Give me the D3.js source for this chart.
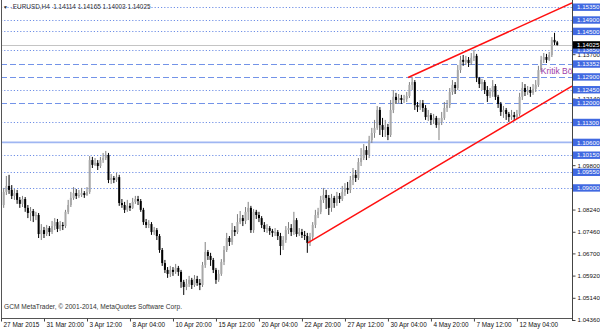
<!DOCTYPE html>
<html><head><meta charset="utf-8">
<script src="https://cdn.jsdelivr.net/npm/d3@7"></script>
<style>body{margin:0;background:#fff}svg{display:block;font-family:"Liberation Sans",Arial,sans-serif}</style>
</head><body><svg id="c" width="600" height="333"></svg>
<script>
const opens=[1.0865,1.0840,1.0886,1.0907,1.0893,1.0872,1.0882,1.0858,1.0844,1.0861,
1.0830,1.0812,1.0819,1.0801,1.0805,1.0738,1.0752,1.0738,1.0759,1.0745,
1.0766,1.0780,1.0756,1.0770,1.0766,1.0816,1.0840,1.0865,1.0882,1.0872,
1.0875,1.0882,1.0875,1.0886,1.0998,1.0981,1.0988,1.0977,1.0998,1.1005,
1.1016,1.0928,1.0935,1.0928,1.0938,1.0847,1.0840,1.0823,1.0837,1.0830,
1.0851,1.0861,1.0854,1.0823,1.0780,1.0770,1.0773,1.0745,1.0752,1.0731,
1.0682,1.0636,1.0612,1.0598,1.0612,1.0605,1.0619,1.0605,1.0570,1.0552,
1.0563,1.0577,1.0559,1.0580,1.0566,1.0559,1.0629,1.0675,1.0661,1.0647,
1.0612,1.0577,1.0598,1.0640,1.0682,1.0724,1.0710,1.0752,1.0745,1.0780,
1.0794,1.0784,1.0816,1.0830,1.0752,1.0816,1.0805,1.0794,1.0770,1.0756,
1.0759,1.0749,1.0742,1.0745,1.0731,1.0696,1.0717,1.0752,1.0759,1.0745,
1.0787,1.0738,1.0745,1.0735,1.0731,1.0707,1.0728,1.0770,1.0805,1.0816,
1.0858,1.0875,1.0865,1.0830,1.0865,1.0847,1.0872,1.0861,1.0886,1.0900,
1.0893,1.0928,1.0946,1.0935,1.0991,1.1005,1.1033,1.1016,1.1068,1.1093,
1.1111,1.1174,1.1121,1.1104,1.1114,1.1086,1.1174,1.1220,1.1209,1.1216,
1.1209,1.1212,1.1223,1.1262,1.1272,1.1191,1.1184,1.1198,1.1181,1.1149,
1.1156,1.1139,1.1146,1.1121,1.1132,1.1146,1.1181,1.1191,1.1237,1.1262,
1.1251,1.1314,1.1350,1.1343,1.1350,1.1339,1.1357,1.1364,1.1286,1.1265,
1.1272,1.1244,1.1223,1.1237,1.1258,1.1220,1.1195,1.1167,1.1174,1.1160,
1.1149,1.1156,1.1149,1.1160,1.1220,1.1251,1.1237,1.1244,1.1234,1.1248,
1.1262,1.1314,1.1350,1.1360,1.1350,1.1367,1.1420,1.14114];
const highs=[1.0882,1.0900,1.0942,1.0946,1.0910,1.0896,1.0893,1.0868,1.0872,1.0868,
1.0840,1.0833,1.0826,1.0816,1.0812,1.0773,1.0763,1.0770,1.0766,1.0784,
1.0794,1.0791,1.0784,1.0780,1.0823,1.0858,1.0886,1.0903,1.0896,1.0893,
1.0900,1.0889,1.0903,1.1012,1.1009,1.1005,1.0998,1.1009,1.1023,1.1030,
1.1023,1.0949,1.0942,1.0953,1.0946,1.0861,1.0851,1.0858,1.0847,1.0865,
1.0872,1.0872,1.0861,1.0830,1.0791,1.0787,1.0780,1.0763,1.0759,1.0738,
1.0689,1.0647,1.0622,1.0626,1.0622,1.0633,1.0626,1.0612,1.0577,1.0580,
1.0591,1.0584,1.0594,1.0591,1.0580,1.0640,1.0710,1.0682,1.0672,1.0654,
1.0619,1.0612,1.0650,1.0696,1.0742,1.0731,1.0777,1.0766,1.0808,1.0819,
1.0805,1.0833,1.0851,1.0837,1.0826,1.0823,1.0816,1.0801,1.0780,1.0773,
1.0766,1.0756,1.0759,1.0752,1.0742,1.0731,1.0766,1.0780,1.0773,1.0816,
1.0794,1.0759,1.0756,1.0749,1.0742,1.0742,1.0780,1.0823,1.0830,1.0872,
1.0900,1.0893,1.0875,1.0879,1.0872,1.0886,1.0882,1.0907,1.0917,1.0921,
1.0942,1.0970,1.0963,1.1005,1.1040,1.1054,1.1047,1.1083,1.1111,1.1139,
1.1188,1.1184,1.1146,1.1139,1.1125,1.1209,1.1244,1.1234,1.1230,1.1227,
1.1227,1.1237,1.1272,1.1290,1.1279,1.1202,1.1209,1.1209,1.1191,1.1174,
1.1163,1.1160,1.1153,1.1146,1.1167,1.1202,1.1209,1.1251,1.1279,1.1272,
1.1332,1.1364,1.1367,1.1364,1.1360,1.1374,1.1385,1.1371,1.1290,1.1283,
1.1279,1.1258,1.1251,1.1279,1.1265,1.1227,1.1202,1.1188,1.1181,1.1167,
1.1174,1.1167,1.1174,1.1234,1.1272,1.1265,1.1258,1.1255,1.1265,1.1279,
1.1329,1.1364,1.1374,1.1371,1.1378,1.1430,1.1445,1.14165];
const lows=[1.0823,1.0830,1.0875,1.0879,1.0861,1.0858,1.0844,1.0830,1.0833,1.0816,
1.0794,1.0784,1.0780,1.0787,1.0724,1.0717,1.0724,1.0731,1.0731,1.0738,
1.0752,1.0745,1.0749,1.0752,1.0759,1.0808,1.0833,1.0858,1.0861,1.0865,
1.0868,1.0865,1.0872,1.0879,1.0970,1.0977,1.0963,1.0970,1.0988,1.0998,
1.0917,1.0914,1.0917,1.0921,1.0837,1.0830,1.0812,1.0816,1.0819,1.0826,
1.0844,1.0840,1.0816,1.0770,1.0759,1.0759,1.0735,1.0735,1.0717,1.0672,
1.0626,1.0601,1.0584,1.0587,1.0591,1.0598,1.0591,1.0549,1.0524,1.0541,
1.0552,1.0545,1.0552,1.0556,1.0541,1.0552,1.0619,1.0647,1.0626,1.0601,
1.0563,1.0570,1.0591,1.0629,1.0675,1.0696,1.0700,1.0731,1.0738,1.0773,
1.0766,1.0773,1.0787,1.0742,1.0742,1.0791,1.0780,1.0759,1.0745,1.0742,
1.0735,1.0728,1.0731,1.0717,1.0664,1.0682,1.0707,1.0738,1.0731,1.0735,
1.0728,1.0731,1.0724,1.0717,1.0672,1.0696,1.0717,1.0759,1.0794,1.0808,
1.0847,1.0826,1.0805,1.0816,1.0830,1.0837,1.0847,1.0854,1.0872,1.0879,
1.0882,1.0910,1.0921,1.0928,1.0977,1.0998,1.0998,1.1005,1.1058,1.1076,
1.1104,1.1086,1.1079,1.1079,1.1068,1.1079,1.1163,1.1195,1.1198,1.1195,
1.1198,1.1202,1.1216,1.1244,1.1174,1.1167,1.1174,1.1167,1.1139,1.1135,
1.1121,1.1125,1.1111,1.1068,1.1121,1.1139,1.1167,1.1181,1.1227,1.1230,
1.1244,1.1304,1.1329,1.1332,1.1325,1.1332,1.1346,1.1272,1.1251,1.1244,
1.1230,1.1202,1.1216,1.1220,1.1209,1.1181,1.1153,1.1146,1.1139,1.1132,
1.1139,1.1135,1.1142,1.1153,1.1209,1.1223,1.1227,1.1220,1.1227,1.1237,
1.1255,1.1307,1.1339,1.1339,1.1346,1.1360,1.1402,1.14003];
const closes=[1.0840,1.0886,1.0907,1.0893,1.0872,1.0882,1.0858,1.0844,1.0861,1.0830,
1.0812,1.0819,1.0801,1.0805,1.0738,1.0752,1.0738,1.0759,1.0745,1.0766,
1.0780,1.0756,1.0770,1.0766,1.0816,1.0840,1.0865,1.0882,1.0872,1.0875,
1.0882,1.0875,1.0886,1.0998,1.0981,1.0988,1.0977,1.0998,1.1005,1.1016,
1.0928,1.0935,1.0928,1.0938,1.0847,1.0840,1.0823,1.0837,1.0830,1.0851,
1.0861,1.0854,1.0823,1.0780,1.0770,1.0773,1.0745,1.0752,1.0731,1.0682,
1.0636,1.0612,1.0598,1.0612,1.0605,1.0619,1.0605,1.0570,1.0552,1.0563,
1.0577,1.0559,1.0580,1.0566,1.0559,1.0629,1.0675,1.0661,1.0647,1.0612,
1.0577,1.0598,1.0640,1.0682,1.0724,1.0710,1.0752,1.0745,1.0780,1.0794,
1.0784,1.0816,1.0830,1.0752,1.0816,1.0805,1.0794,1.0770,1.0756,1.0759,
1.0749,1.0742,1.0745,1.0731,1.0696,1.0717,1.0752,1.0759,1.0745,1.0787,
1.0738,1.0745,1.0735,1.0731,1.0707,1.0728,1.0770,1.0805,1.0816,1.0858,
1.0875,1.0865,1.0830,1.0865,1.0847,1.0872,1.0861,1.0886,1.0900,1.0893,
1.0928,1.0946,1.0935,1.0991,1.1005,1.1033,1.1016,1.1068,1.1093,1.1111,
1.1174,1.1121,1.1104,1.1114,1.1086,1.1174,1.1220,1.1209,1.1216,1.1209,
1.1212,1.1223,1.1262,1.1272,1.1191,1.1184,1.1198,1.1181,1.1149,1.1156,
1.1139,1.1146,1.1121,1.1132,1.1146,1.1181,1.1191,1.1237,1.1262,1.1251,
1.1314,1.1350,1.1343,1.1350,1.1339,1.1357,1.1364,1.1286,1.1265,1.1272,
1.1244,1.1223,1.1237,1.1258,1.1220,1.1195,1.1167,1.1174,1.1160,1.1149,
1.1156,1.1149,1.1160,1.1220,1.1251,1.1237,1.1244,1.1234,1.1248,1.1262,
1.1314,1.1350,1.1360,1.1350,1.1367,1.1420,1.14114,1.14025];

const timeLabels=["27 Mar 2015","31 Mar 20:00","3 Apr 12:00","8 Apr 04:00","10 Apr 20:00","15 Apr 12:00","20 Apr 04:00","22 Apr 20:00","27 Apr 12:00","30 Apr 04:00","4 May 20:00","7 May 12:00","12 May 04:00"];
const timeTickBars=[0,16,32,48,64,80,96,112,128,144,160,176,192];
const priceTicks=[1.04360,1.05140,1.05920,1.06700,1.07460,1.08240,1.09020,1.09800,1.10580,1.11360,1.12140,1.12920,1.13700,1.14480];
const dottedLevels=[1.15350,1.14900,1.14500,1.13850,1.12450,1.11300,1.10150,1.09550,1.09000];
const dashedLevels=[1.13352,1.12900,1.12000];
const solidLevels=[1.10600];
const lastPrice=1.14025;
const upperTrend=[[151.5,1.1288],[212.5,1.1550]];
const lowerTrend=[[114.2,1.0707],[212.5,1.1258]];
const titleText=".EURUSD,H4  1.14114 1.14165 1.14003 1.14025";
const copyText="GCM MetaTrader, \u00A9 2001-2014, MetaQuotes Software Corp.";
const noteText="Kritik B\u00F6lge";
const notePos=[200.9,1.1311];

const svg=d3.select("#c");
const L=1,R=572,T=1,B=318;
const n=Math.min(opens.length,highs.length,lows.length,closes.length);
const x=d3.scaleLinear().domain([0,212.5]).range([L,R]);
const y=d3.scaleLinear().domain([1.0436,1.1535]).range([320,7.2]);

svg.append("defs").append("clipPath").attr("id","plot").append("rect")
  .attr("x",L).attr("y",T).attr("width",R-L).attr("height",B-T);
const g=svg.append("g").attr("clip-path","url(#plot)");

// horizontal levels
g.selectAll(".dot").data(dottedLevels).join("line")
  .attr("x1",L).attr("x2",R).attr("y1",d=>Math.round(y(d))+0.5).attr("y2",d=>Math.round(y(d))+0.5)
  .attr("stroke","#6f8fe6").attr("stroke-width",1).attr("stroke-dasharray","1.2,2");
g.selectAll(".dash").data(dashedLevels).join("line")
  .attr("x1",L).attr("x2",R).attr("y1",d=>Math.round(y(d))+0.5).attr("y2",d=>Math.round(y(d))+0.5)
  .attr("stroke","#7393e8").attr("stroke-width",1).attr("stroke-dasharray","6,3");
g.selectAll(".sol").data(solidLevels).join("line")
  .attr("x1",L).attr("x2",R).attr("y1",d=>y(d)).attr("y2",d=>y(d))
  .attr("stroke","#9fb6f2").attr("stroke-width",1.6);
g.append("line").attr("x1",L).attr("x2",R).attr("y1",Math.round(y(lastPrice))+0.5).attr("y2",Math.round(y(lastPrice))+0.5)
  .attr("stroke","#c4c4c4").attr("stroke-width",1);

// candles
const idx=d3.range(n);
g.selectAll(".wick").data(idx).join("line")
  .attr("x1",i=>x(i)).attr("x2",i=>x(i))
  .attr("y1",i=>y(highs[i])).attr("y2",i=>y(lows[i]))
  .attr("stroke",i=>closes[i]>=opens[i]?"#808080":"#000").attr("stroke-width",1);
g.selectAll(".body").data(idx).join("rect")
  .attr("x",i=>x(i)-1).attr("width",2)
  .attr("y",i=>y(Math.max(opens[i],closes[i])))
  .attr("height",i=>Math.max(1,Math.abs(y(opens[i])-y(closes[i]))))
  .attr("fill",i=>closes[i]>=opens[i]?"#a8a8a8":"#000");

// trendlines
const line=d3.line().x(d=>x(d[0])).y(d=>y(d[1]));
[upperTrend,lowerTrend].forEach(t=>g.append("path").attr("d",line(t)).attr("fill","none").attr("stroke","#ff1010").attr("stroke-width",1.5));

// note text
g.append("text").attr("x",x(notePos[0])).attr("y",y(notePos[1])).attr("dy","0.35em")
  .attr("font-size",8.5).attr("fill","#a03ca8").text(noteText);

// frame
svg.append("line").attr("x1",L+0.5).attr("x2",L+0.5).attr("y1",0).attr("y2",B).attr("stroke","#555");
svg.append("line").attr("x1",L).attr("x2",R).attr("y1",B+0.5).attr("y2",B+0.5).attr("stroke","#555");

// right axis
const ya=svg.append("g").attr("transform",`translate(${R+0.5},0)`)
  .call(d3.axisRight(y).tickValues(priceTicks).tickSize(3).tickPadding(2).tickFormat(d3.format(".5f")));
ya.select(".domain").attr("stroke","#444").attr("d","M0,0V321");
ya.selectAll("text").attr("font-size",6.2).attr("fill","#111").attr("font-family","Liberation Sans, Arial, sans-serif");
ya.selectAll("line").attr("stroke","#444");

// level boxes
const boxLevels=dottedLevels.concat(dashedLevels,solidLevels);
const bx=svg.append("g");
bx.selectAll("rect").data(boxLevels).join("rect")
  .attr("x",R+1).attr("width",600-R-1).attr("y",d=>y(d)-3.7).attr("height",7.4).attr("fill","#4169e1");
bx.selectAll("text").data(boxLevels).join("text")
  .attr("x",R+5).attr("y",d=>y(d)).attr("dy","0.35em").attr("font-size",6.2).attr("fill","#fff")
  .text(d=>d.toFixed(5));
svg.append("rect").attr("x",R+1).attr("width",600-R-1).attr("y",y(lastPrice)-3.7).attr("height",7.4).attr("fill","#000");
svg.append("text").attr("x",R+5).attr("y",y(lastPrice)).attr("dy","0.35em").attr("font-size",6.2).attr("fill","#fff").text(lastPrice.toFixed(5));

// bottom axis
const xa=svg.append("g").attr("transform",`translate(0,${B+0.5})`)
  .call(d3.axisBottom(x).tickValues(timeTickBars).tickSize(3).tickFormat((d,i)=>timeLabels[i]));
xa.select(".domain").remove();
xa.selectAll("line").attr("stroke","#444");
xa.selectAll("text").attr("font-size",6.4).attr("fill","#111").attr("text-anchor","start")
  .attr("x",2).attr("y",4).attr("dy","0.71em").attr("font-family","Liberation Sans, Arial, sans-serif");

// title & copyright
svg.append("text").attr("x",3).attr("y",9).attr("font-size",5).attr("fill","#333").text("\u25BC");
svg.append("text").attr("x",11).attr("y",9).attr("font-size",6.4).attr("fill","#333").attr("xml:space","preserve").text(titleText);
svg.append("text").attr("x",4).attr("y",309).attr("font-size",6.6).attr("fill","#333").text(copyText);
</script></body></html>
